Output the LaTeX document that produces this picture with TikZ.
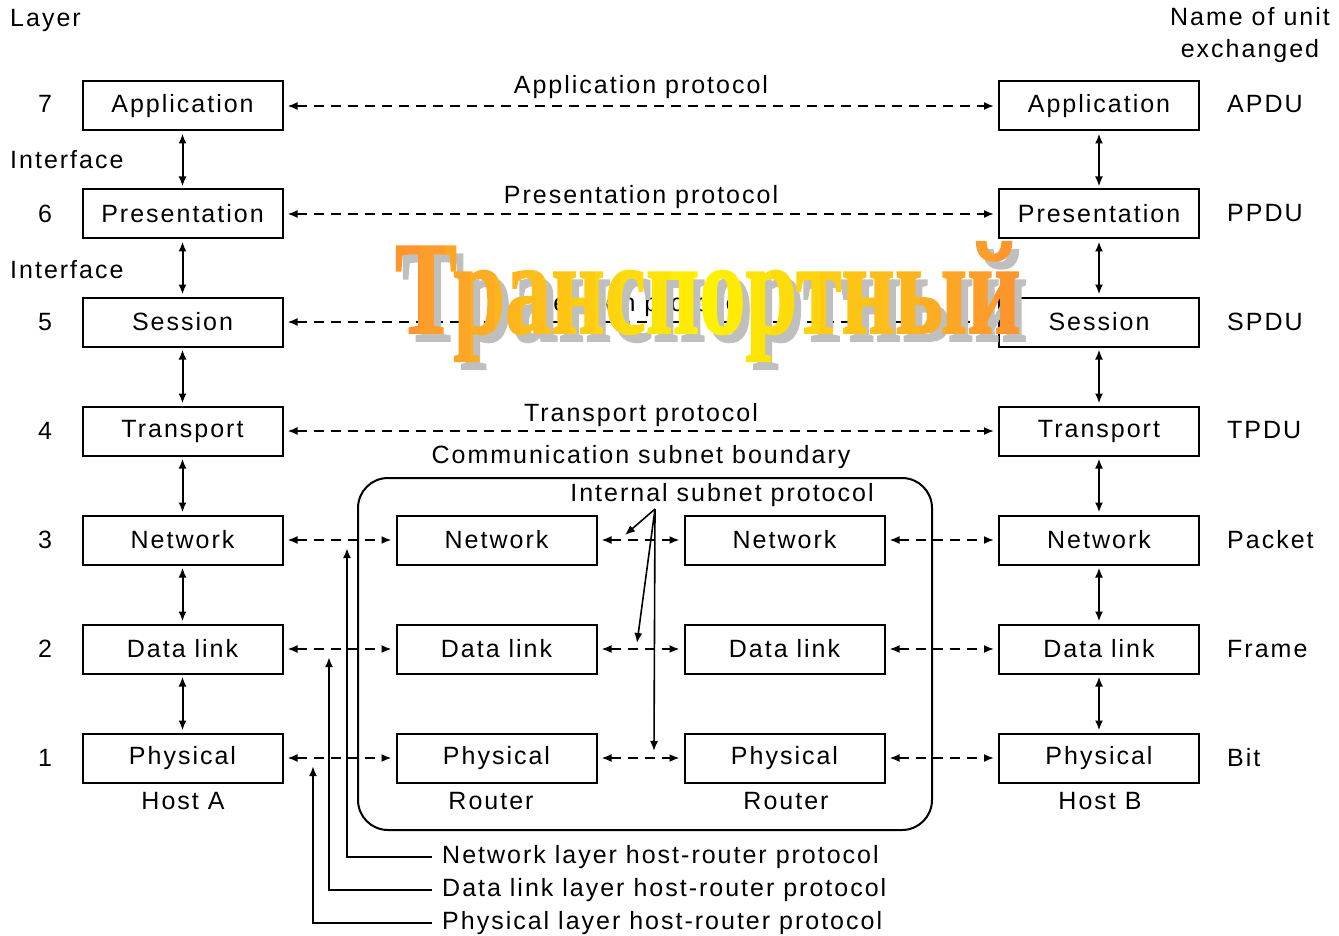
\documentclass[tikz,border=0pt]{standalone}
\usepackage{fontspec}
\setmainfont{Liberation Sans}
\newfontfamily\diagfont[LetterSpace=8]{Liberation Sans}
\newfontfamily\wordfont[FakeBold=1.5]{Liberation Serif}
\usetikzlibrary{arrows.meta}
\definecolor{wordOrange}{RGB}{252,150,45}
\definecolor{wordYellow}{RGB}{255,242,0}
\begin{document}
\begin{tikzpicture}[x=1pt,y=-1pt,
  txt/.style={font=\diagfont\fontsize{25}{30}\selectfont, inner sep=0pt},
  box/.style={txt, draw, line width=2pt, minimum width=200pt, minimum height=49pt},
  tipL/.tip={Latex[length=10pt,width=8pt]},
  proto/.style={line width=1.8pt, dash pattern=on 10pt off 7pt, tipL-tipL, shorten <=4pt, shorten >=4pt},
  varrow/.style={line width=2pt, tipL-tipL, shorten <=2pt, shorten >=2pt},
  hr/.style={line width=2pt, -tipL},
]
\fill[white] (0,0) rectangle (1339,936);
\useasboundingbox (0,0) rectangle (1339,936);

% headers
\node[txt, anchor=west] (layer) at (10,20) {Layer};
\node[txt, align=center] (nameunit) at (1250,35) {Name of unit\\[2pt]exchanged};
\node[txt, anchor=west] (if1) at (10,160) {Interface};
\node[txt, anchor=west] (if2) at (10,270) {Interface};

% layer numbers
\foreach \n/\y in {7/104,6/214,5/322,4/431,3/540,2/649,1/758}
  \node[txt] (num\n) at (45,\y) {\n};

% unit names
\foreach \n/\y/\t in {7/104/APDU,6/213/PPDU,5/322/SPDU,4/430/TPDU,3/540/Packet,2/649/Frame,1/758/Bit}
  \node[txt, anchor=west] (unit\n) at (1227,\y) {\t};

% host boxes
\foreach \n/\y/\t in {7/106/Application,6/214/Presentation,5/322/Session,4/431/Transport,3/540/Network,2/649/Data link,1/758/Physical}{
  \node[box] (hA\n) at (182.5,\y) {\t};
  \node[box] (hB\n) at (1099,\y) {\t};
}
% router boxes
\foreach \n/\y/\t in {3/540/Network,2/649/Data link,1/758/Physical}{
  \node[box] (rA\n) at (496.5,\y) {\t};
  \node[box] (rB\n) at (784.5,\y) {\t};
}

% subnet boundary
\node[draw, line width=2pt, rounded corners=30pt, minimum width=574pt, minimum height=352pt, inner sep=0pt] (subnet) at (645,654) {};

% captions
\node[txt] (hostA) at (183,801) {Host A};
\node[txt] (hostB) at (1100,801) {Host B};
\node[txt] (routA) at (491,801) {Router};
\node[txt] (routB) at (786,801) {Router};

% protocol labels
\node[txt] (papp) at (641,87) {Application protocol};
\node[txt] (ppre) at (641,197) {Presentation protocol};
\node[txt] (pses) at (641,305) {Session protocol};
\node[txt] (ptra) at (641,415) {Transport protocol};
\node[txt] (pcom) at (641,457) {Communication subnet boundary};
\node[txt] (pint) at (722,495) {Internal subnet protocol};

% peer protocols (hosts)
\foreach \n in {7,6,5,4}
  \draw[proto] (hA\n.east) -- (hB\n.west);
% host-router and router-router
\foreach \n in {3,2,1}{
  \draw[proto] (hA\n.east) -- (rA\n.west);
  \draw[proto] (rA\n.east) -- (rB\n.west);
  \draw[proto] (rB\n.east) -- (hB\n.west);
}
% interfaces
\foreach \a/\b in {7/6,6/5,5/4,4/3,3/2,2/1}{
  \draw[varrow] (hA\a.south) -- (hA\b.north);
  \draw[varrow] (hB\a.south) -- (hB\b.north);
}

% internal subnet protocol arrows
\coordinate (isp) at (655,509);
\coordinate (t3) at (625,535);
\coordinate (t2) at (637,643);
\coordinate (t1) at (654,751);
\draw[hr, line width=1.6pt] (isp) -- (t3);
\draw[hr, line width=1.6pt] (isp) -- (t2);
\draw[hr, line width=1.6pt] (isp) -- (t1);

% host-router protocol labels
\node[txt, anchor=west] (nl) at (442,857) {Network layer host-router protocol};
\node[txt, anchor=west] (dl) at (442,890) {Data link layer host-router protocol};
\node[txt, anchor=west] (pl) at (442,923) {Physical layer host-router protocol};
\coordinate (npt) at (347,548);
\coordinate (dpt) at (329,657);
\coordinate (ppt) at (313,766);
\draw[hr] (nl.west) ++(-10,0) -| (npt);
\draw[hr] (dl.west) ++(-10,0) -| (dpt);
\draw[hr] (pl.west) ++(-10,0) -| (ppt);

% big overlay word
\node[anchor=base west, inner sep=0pt, text=black!25] (wshadow) at (402,341)
  {\resizebox{625pt}{91pt}{\wordfont\bfseries Транспортный}};
\foreach \i in {0,...,24}{
  \pgfmathtruncatemacro\pp{abs(\i-12)*100/12}
  \begin{scope}
    \clip (395+\i*25,200) rectangle (395+\i*25+25.6,400);
    \node[anchor=base west, inner sep=0pt, text=wordOrange!\pp!wordYellow] (w\i) at (395,333)
      {\resizebox{625pt}{91pt}{\wordfont\bfseries Транспортный}};
  \end{scope}
}
\end{tikzpicture}
\end{document}
